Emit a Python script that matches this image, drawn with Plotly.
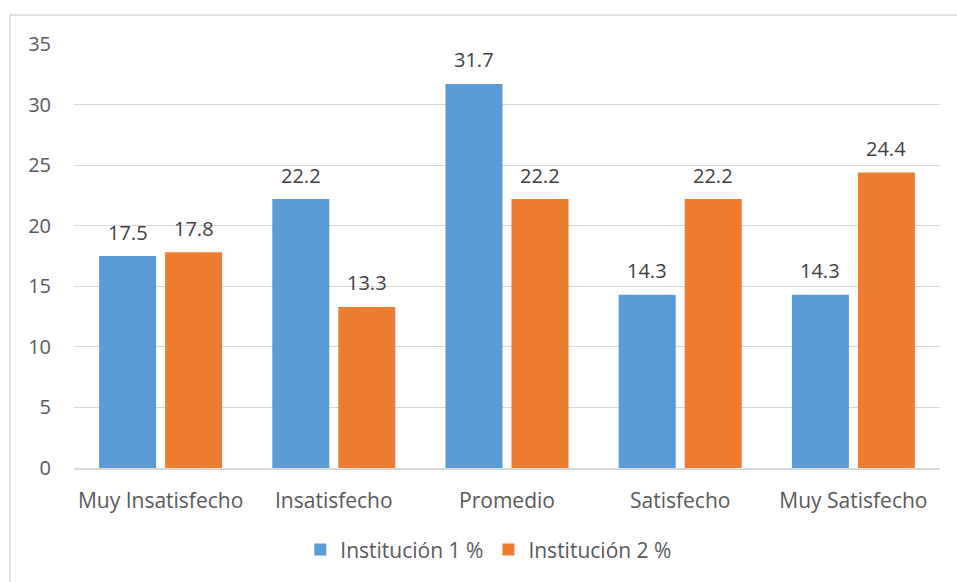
import plotly.graph_objects as go

categories = ["Muy Insatisfecho", "Insatisfecho", "Promedio", "Satisfecho", "Muy Satisfecho"]
inst1 = [17.5, 22.2, 31.7, 14.3, 14.3]
inst2 = [17.8, 13.3, 22.2, 22.2, 24.4]
series_names = ["Institución 1 %", "Institución 2 %"]
y_ticks = [0, 5, 10, 15, 20, 25, 30, 35]

FONT = "Open Sans"
TXT = "#595959"
LBL = "#404040"

fig = go.Figure()
annotations = []
for name, vals, col, shift in [(series_names[0], inst1, "#5B9BD5", -33),
                                (series_names[1], inst2, "#ED7D31", 33)]:
    fig.add_trace(go.Bar(
        x=categories, y=vals, name=name,
        marker=dict(color=col, line=dict(width=0)),
    ))
    for c, v in zip(categories, vals):
        annotations.append(dict(x=c, y=v, xref="x", yref="y", text=f"{v}",
                                showarrow=False, xshift=shift, yshift=24,
                                yanchor="middle",
                                font=dict(family=FONT, size=20, color=LBL)))

fig.update_layout(
    width=957, height=582,
    margin=dict(l=74, r=17, t=44, b=114),
    paper_bgcolor="white", plot_bgcolor="white",
    barmode="group", bargap=0.238, bargroupgap=0.136,
    font=dict(family=FONT, size=20, color=TXT),
    showlegend=True,
    legend=dict(orientation="h", x=0.479, xanchor="center", y=-0.193, yanchor="middle",
                font=dict(family=FONT, size=21, color=TXT), itemwidth=30),
    xaxis=dict(showgrid=False, showline=True, linecolor="#D9D9D9", linewidth=1.5,
               ticks="", ticklabelstandoff=13, tickfont=dict(size=21, color=TXT)),
    yaxis=dict(range=[0, 35], tickvals=y_ticks, showgrid=True, gridcolor="#D9D9D9",
               gridwidth=1, zeroline=False, showline=False, ticks="",
               ticklabelstandoff=22, tickfont=dict(size=20, color=TXT)),
    annotations=annotations,
    shapes=[dict(type="rect", xref="paper", yref="paper",
                 x0=-0.0739, x1=1.06, y0=-0.4, y1=1.0684,
                 line=dict(color="#D9D9D9", width=1.5), fillcolor="rgba(0,0,0,0)",
                 layer="below")],
)

fig.write_html("out.html")
